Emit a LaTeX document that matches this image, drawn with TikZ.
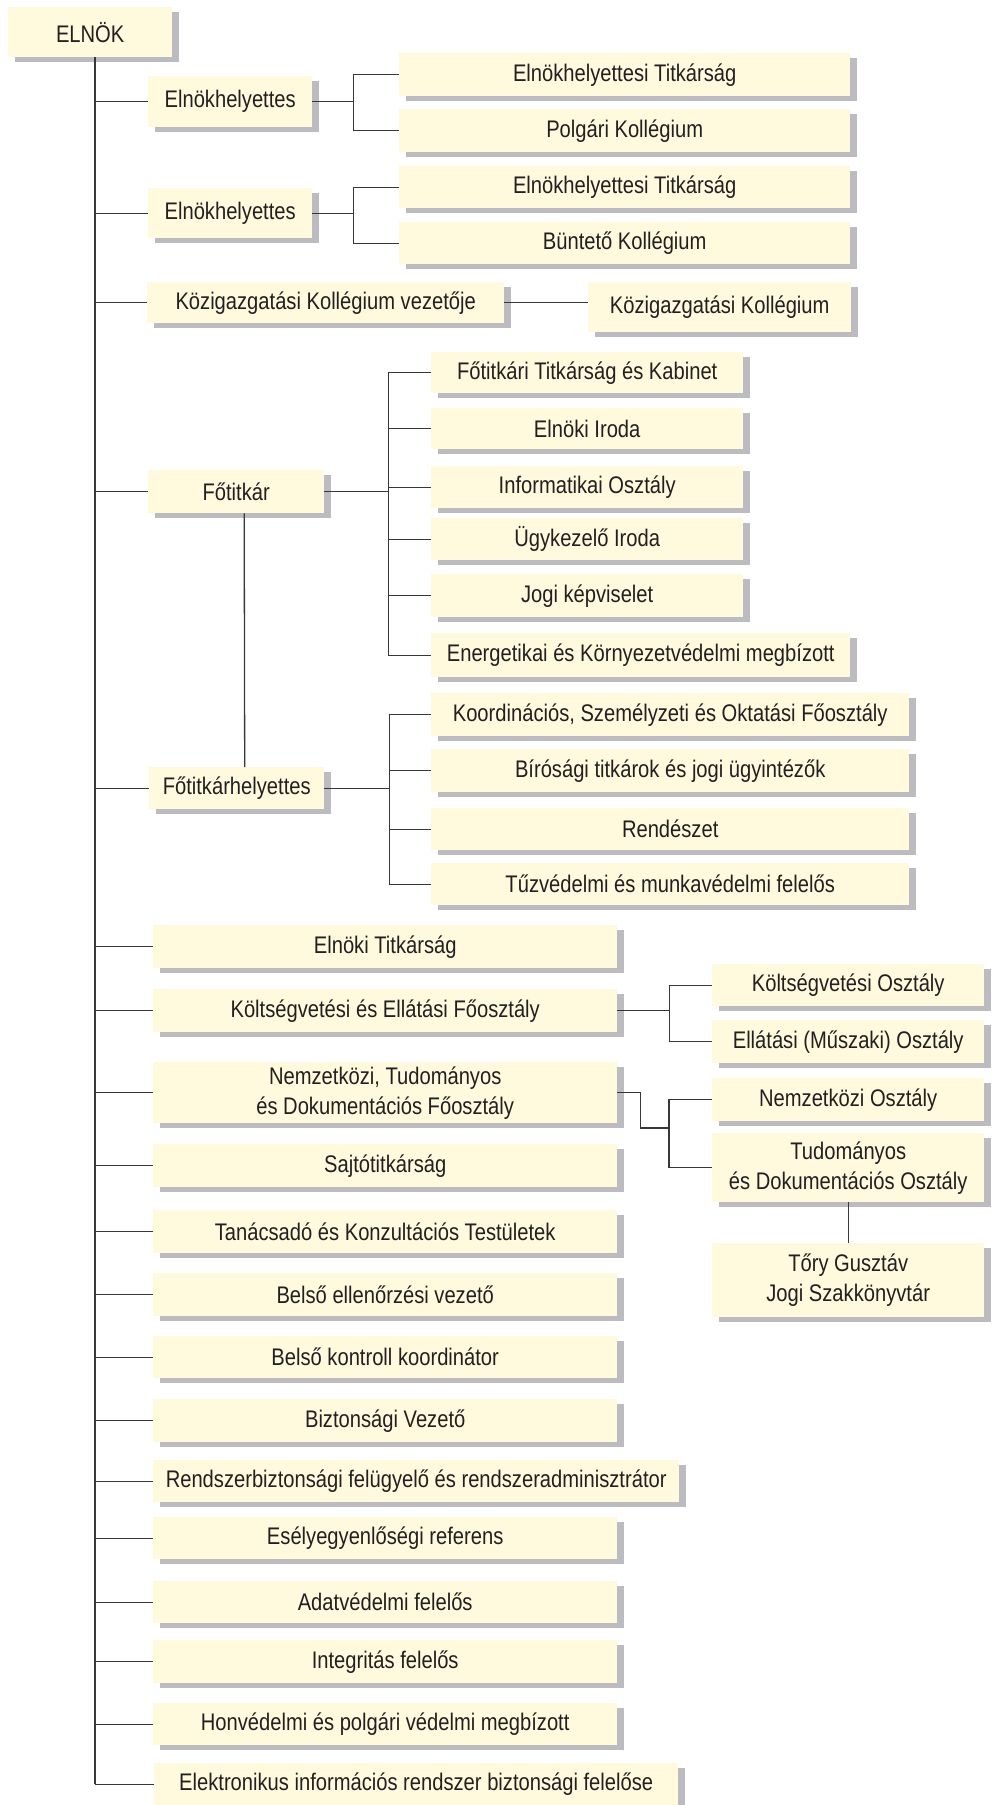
\documentclass[tikz,border=0pt]{standalone}
\usepackage{fontspec}
\setmainfont{Liberation Sans}[FakeStretch=0.84]
\usepackage{tikz}
\usetikzlibrary{positioning, shadows, calc}
\definecolor{creamfill}{RGB}{255,250,222}
\definecolor{shadowgray}{RGB}{188,188,192}
\definecolor{linegray}{RGB}{55,55,55}
\definecolor{textgray}{RGB}{35,31,32}
\tikzset{
  unit/.style={
    rectangle, anchor=north west, inner sep=0pt, align=center,
    fill=creamfill, text=textgray,
    font=\fontsize{24}{30}\selectfont,
    drop shadow={shadow xshift=7pt, shadow yshift=-5pt,
                 fill=shadowgray, opacity=1}
  },
  ln/.style={draw=linegray, line width=1.3pt}
}

\begin{document}
\begin{tikzpicture}[x=1pt, y=-1pt]
  \useasboundingbox (0,0) rectangle (995,1805);

  % vezetes
  \node[unit, minimum width=164pt, minimum height=50pt] (elnok) at (8,7) {ELNÖK};
  \node[unit, minimum width=164pt, minimum height=51pt] (eh1) at (148,76) {Elnökhelyettes};
  \node[unit, minimum width=451pt, minimum height=43pt] (eht1) at (399,53) {Elnökhelyettesi Titkárság};
  \node[unit, minimum width=451pt, minimum height=43pt] (polg) at (399,109) {Polgári Kollégium};
  \node[unit, minimum width=164pt, minimum height=50pt] (eh2) at (148,188) {Elnökhelyettes};
  \node[unit, minimum width=451pt, minimum height=42pt] (eht2) at (399,166) {Elnökhelyettesi Titkárság};
  \node[unit, minimum width=451pt, minimum height=42pt] (bunt) at (399,222) {Büntető Kollégium};
  \node[unit, minimum width=357pt, minimum height=41pt] (kkv) at (147,282) {Közigazgatási Kollégium vezetője};
  \node[unit, minimum width=263pt, minimum height=50pt] (kk) at (588,282) {Közigazgatási Kollégium};

  % fotitkar
  \node[unit, minimum width=176pt, minimum height=43pt] (ft) at (148,470) {Főtitkár};
  \node[unit, minimum width=312pt, minimum height=41pt] (ft1) at (431,352) {Főtitkári Titkárság és Kabinet};
  \node[unit, minimum width=312pt, minimum height=41pt] (ft2) at (431,408) {Elnöki Iroda};
  \node[unit, minimum width=312pt, minimum height=42pt] (ft3) at (431,466) {Informatikai Osztály};
  \node[unit, minimum width=312pt, minimum height=42pt] (ft4) at (431,518) {Ügykezelő Iroda};
  \node[unit, minimum width=312pt, minimum height=43pt] (ft5) at (431,574) {Jogi képviselet};
  \node[unit, minimum width=419pt, minimum height=44pt] (ft6) at (431,633) {Energetikai és Környezetvédelmi megbízott};

  \node[unit, minimum width=175pt, minimum height=42pt] (fth) at (149,767) {Főtitkárhelyettes};
  \node[unit, minimum width=478pt, minimum height=43pt] (fh1) at (431,693) {Koordinációs, Személyzeti és Oktatási Főosztály};
  \node[unit, minimum width=478pt, minimum height=43pt] (fh2) at (431,749) {Bírósági titkárok és jogi ügyintézők};
  \node[unit, minimum width=478pt, minimum height=42pt] (fh3) at (431,808) {Rendészet};
  \node[unit, minimum width=478pt, minimum height=42pt] (fh4) at (431,863) {Tűzvédelmi és munkavédelmi felelős};

  % foosztalyok
  \node[unit, minimum width=464pt, minimum height=43pt] (elt) at (153,925) {Elnöki Titkárság};
  \node[unit, minimum width=464pt, minimum height=43pt] (kef) at (153,989) {Költségvetési és Ellátási Főosztály};
  \node[unit, minimum width=272pt, minimum height=42pt] (ko1) at (712,964) {Költségvetési Osztály};
  \node[unit, minimum width=272pt, minimum height=43pt] (ko2) at (712,1020) {Ellátási (Műszaki) Osztály};
  \node[unit, minimum width=464pt, minimum height=61pt] (ntd) at (153,1062) {Nemzetközi, Tudományos\\és Dokumentációs Főosztály};
  \node[unit, minimum width=272pt, minimum height=43pt] (no1) at (712,1078) {Nemzetközi Osztály};
  \node[unit, minimum width=272pt, minimum height=69pt] (no2) at (712,1133) {Tudományos\\és Dokumentációs Osztály};
  \node[unit, minimum width=272pt, minimum height=74pt] (tory) at (712,1243) {Tőry Gusztáv\\Jogi Szakkönyvtár};

  % onallo egysegek
  \node[unit, minimum width=464pt, minimum height=43pt] (sajto) at (153,1144) {Sajtótitkárság};
  \node[unit, minimum width=464pt, minimum height=43pt] (tan) at (153,1210) {Tanácsadó és Konzultációs Testületek};
  \node[unit, minimum width=464pt, minimum height=43pt] (bev) at (153,1273) {Belső ellenőrzési vezető};
  \node[unit, minimum width=464pt, minimum height=42pt] (bkk) at (153,1336) {Belső kontroll koordinátor};
  \node[unit, minimum width=464pt, minimum height=43pt] (bv) at (153,1399) {Biztonsági Vezető};
  \node[unit, minimum width=526pt, minimum height=42pt] (rb) at (153,1460) {Rendszerbiztonsági felügyelő és rendszeradminisztrátor};
  \node[unit, minimum width=464pt, minimum height=42pt] (esely) at (153,1517) {Esélyegyenlőségi referens};
  \node[unit, minimum width=464pt, minimum height=42pt] (adat) at (153,1581) {Adatvédelmi felelős};
  \node[unit, minimum width=464pt, minimum height=43pt] (integ) at (153,1640) {Integritás felelős};
  \node[unit, minimum width=464pt, minimum height=42pt] (honv) at (153,1703) {Honvédelmi és polgári védelmi megbízott};
  \node[unit, minimum width=524pt, minimum height=42pt] (elek) at (154,1763) {Elektronikus információs rendszer biztonsági felelőse};

  % torzs
  \coordinate (trk) at (95,57);
  \draw[ln] (trk) -- (trk |- elek.west);
  \foreach \n in {eh1,eh2,kkv,ft,fth,elt,kef,ntd,sajto,tan,bev,bkk,bv,rb,esely,adat,integ,honv,elek}
    \draw[ln] (trk |- \n.west) -- (\n.west);

  % agak
  \draw[ln] (eh1.east) -- ++(41,0) coordinate (j1);
  \draw[ln] (eht1.west) -| (j1) |- (polg.west);
  \draw[ln] (eh2.east) -- ++(41,0) coordinate (j2);
  \draw[ln] (eht2.west) -| (j2) |- (bunt.west);
  \draw[ln] (kkv.east) -- (kkv.east -| kk.west);

  \draw[ln] (ft.east) -- ++(64,0) coordinate (j3);
  \draw[ln] (ft1.west) -| (j3) |- (ft6.west);
  \foreach \n in {ft2,ft3,ft4,ft5}
    \draw[ln] (\n.west) -- (\n.west -| j3);
  \draw[ln] ([xshift=8pt]ft.south) -- ([xshift=8pt]fth.north);

  \draw[ln] (fth.east) -- ++(65,0) coordinate (j4);
  \draw[ln] (fh1.west) -| (j4) |- (fh4.west);
  \foreach \n in {fh2,fh3}
    \draw[ln] (\n.west) -- (\n.west -| j4);

  \draw[ln] (kef.east) -- ++(52,0) coordinate (j5);
  \draw[ln] (ko1.west) -| (j5) |- (ko2.west);

  \coordinate (j6) at (669,1128);
  \draw[ln] (ntd.east) -- ++(23,0) |- (j6);
  \draw[ln] (no1.west) -| (j6) |- (no2.west);
  \draw[ln] (no2.south) -- (tory.north);
\end{tikzpicture}
\end{document}
